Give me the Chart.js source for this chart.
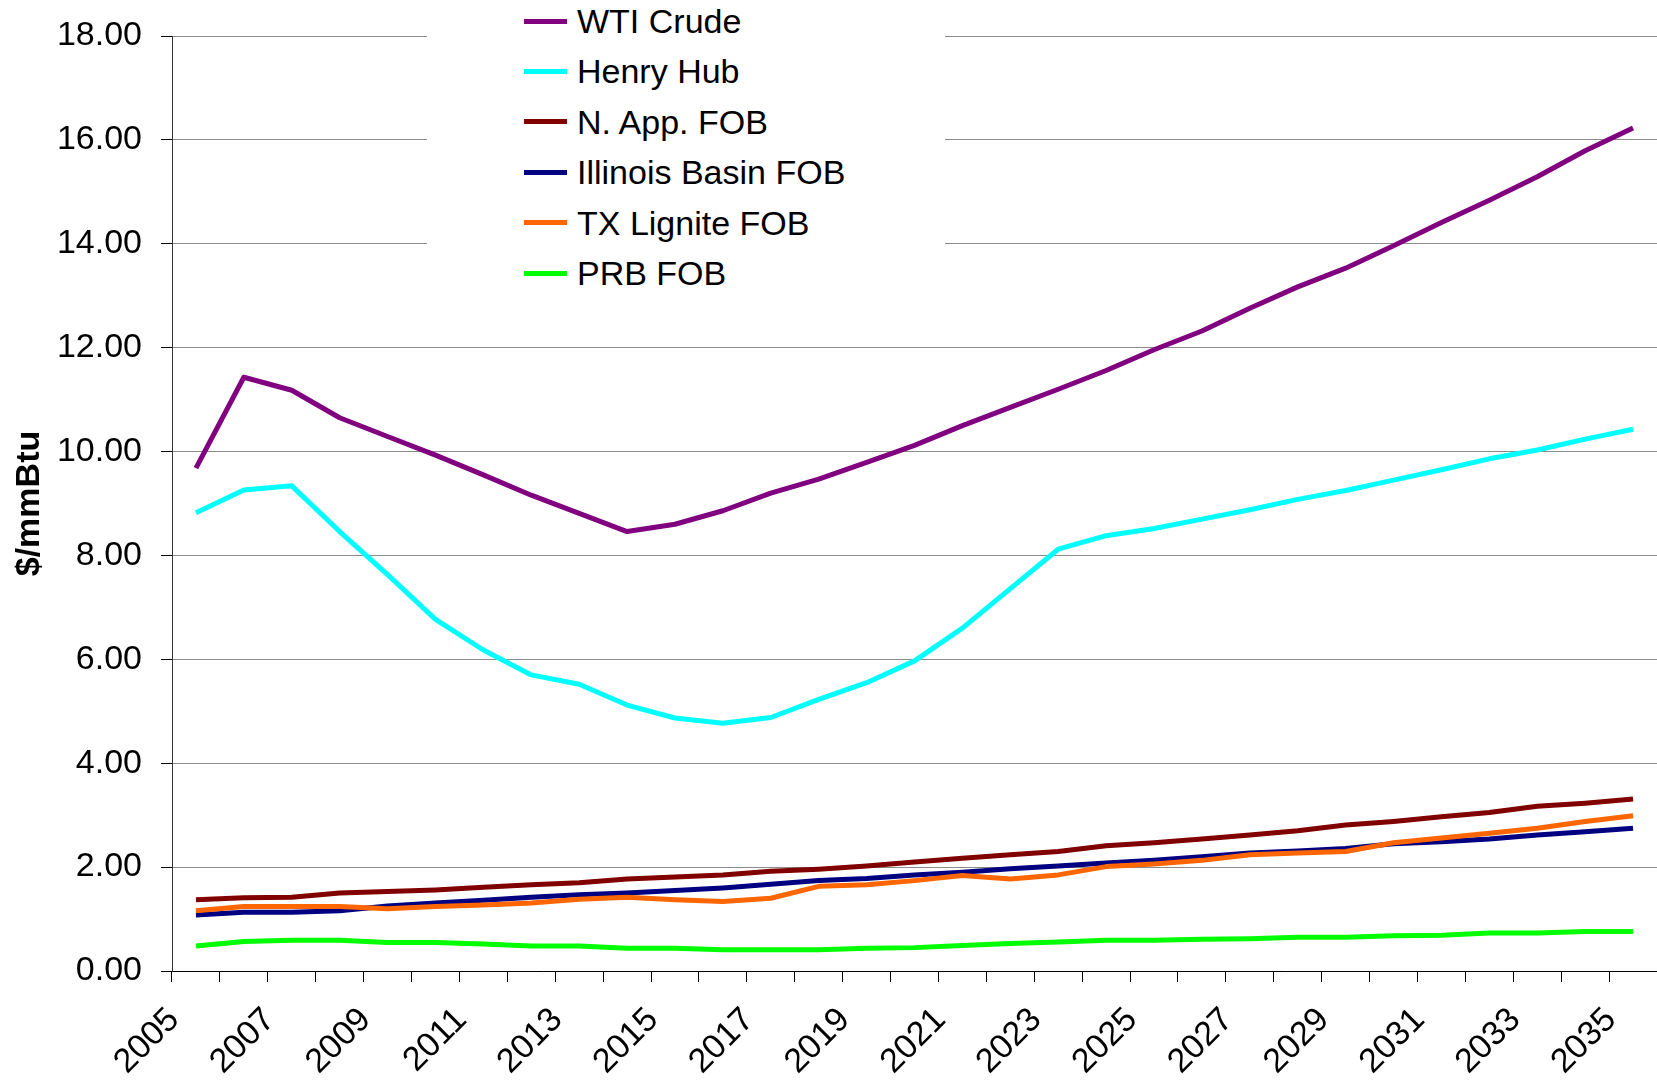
<!DOCTYPE html>
<html>
<head>
<meta charset="utf-8">
<script src="https://cdn.jsdelivr.net/npm/chart.js@4/dist/chart.umd.min.js"></script>
<style>
  html, body { margin: 0; padding: 0; background: #fff; overflow: hidden; }
  #wrap { position: relative; width: 1657px; height: 1081px; }
  #legend { position: absolute; left: 427px; top: 0px; width: 518px; height: 300px; background: #fff;
            font-family: "Liberation Sans", Arial, sans-serif; font-size: 34px; color: #000; }
  .item { position: absolute; left: 0; height: 40px; }
  .swatch { position: absolute; left: 97px; width: 43px; height: 5px; }
  .label { position: absolute; left: 150px; white-space: nowrap; line-height: 40px; top: -20px; }
</style>
</head>
<body>
<div id="wrap">
  <canvas id="c" width="1657" height="1081"></canvas>
  <div id="legend"></div>
</div>
<script>
const years = ["2005","2006","2007","2008","2009","2010","2011","2012","2013","2014","2015",
  "2016","2017","2018","2019","2020","2021","2022","2023","2024","2025",
  "2026","2027","2028","2029","2030","2031","2032","2033","2034","2035"];
const seriesNames = ["WTI Crude","Henry Hub","N. App. FOB","Illinois Basin FOB","TX Lignite FOB","PRB FOB"];
const seriesColors = ["#800080","#00FFFF","#800000","#000080","#FF6600","#00FF00"];
const wti = [9.68,11.43,11.18,10.65,10.29,9.93,9.55,9.16,8.81,8.46,8.60,
  8.86,9.20,9.47,9.79,10.12,10.50,10.85,11.20,11.56,11.96,
  12.32,12.76,13.17,13.53,13.96,14.41,14.84,15.29,15.79,16.23];
const henryHub = [8.82,9.26,9.34,8.46,7.63,6.77,6.18,5.70,5.52,5.12,4.87,
  4.77,4.88,5.23,5.55,5.97,6.60,7.36,8.12,8.38,8.52,
  8.70,8.88,9.08,9.25,9.45,9.65,9.86,10.03,10.24,10.43];
const nApp = [1.37,1.41,1.42,1.50,1.53,1.56,1.61,1.66,1.70,1.77,1.81,
  1.85,1.92,1.96,2.02,2.10,2.17,2.24,2.30,2.41,2.47,
  2.54,2.62,2.70,2.81,2.88,2.97,3.05,3.17,3.23,3.31];
const illinois = [1.08,1.13,1.13,1.16,1.25,1.31,1.36,1.42,1.47,1.50,1.55,
  1.60,1.67,1.74,1.78,1.85,1.90,1.97,2.02,2.08,2.13,
  2.20,2.27,2.31,2.36,2.45,2.49,2.54,2.62,2.68,2.75];
const txLignite = [1.16,1.24,1.24,1.24,1.20,1.24,1.27,1.31,1.38,1.42,1.37,
  1.34,1.40,1.63,1.66,1.74,1.84,1.77,1.85,2.01,2.06,
  2.13,2.24,2.27,2.30,2.47,2.56,2.65,2.75,2.88,2.99];
const prb = [0.48,0.57,0.59,0.59,0.55,0.55,0.52,0.48,0.48,0.44,0.44,
  0.41,0.41,0.41,0.44,0.45,0.49,0.53,0.56,0.59,0.59,
  0.61,0.62,0.65,0.65,0.68,0.69,0.73,0.73,0.76,0.76];
const seriesValues = [wti, henryHub, nApp, illinois, txLignite, prb];
const yTicks = [0,2,4,6,8,10,12,14,16,18];

const FONT = '"Liberation Sans", Arial, sans-serif';

const datasets = seriesNames.map((n, i) => ({
  label: n,
  data: seriesValues[i],
  borderColor: seriesColors[i],
  backgroundColor: seriesColors[i],
  borderWidth: 5,
  pointRadius: 0,
  tension: 0,
  fill: false,
  borderJoinStyle: 'round',
  borderCapStyle: 'butt',
  order: seriesNames.length - i
}));

// HTML legend
const leg = document.getElementById('legend');
seriesNames.forEach((n, i) => {
  const it = document.createElement('div');
  it.className = 'item';
  it.style.top = (21 + i * 50.4) + 'px';
  const sw = document.createElement('div');
  sw.className = 'swatch';
  sw.style.background = seriesColors[i];
  sw.style.top = '-2.5px';
  const lb = document.createElement('div');
  lb.className = 'label';
  lb.textContent = n;
  it.appendChild(sw); it.appendChild(lb);
  leg.appendChild(it);
});

new Chart(document.getElementById('c'), {
  type: 'line',
  data: { labels: years, datasets },
  options: {
    responsive: false,
    animation: false,
    layout: { padding: { top: 36, left: 0, right: 0, bottom: 0 } },
    plugins: { legend: { display: false }, tooltip: { enabled: false } },
    scales: {
      x: {
        type: 'category',
        offset: true,
        grid: { display: true, drawOnChartArea: false, drawTicks: true, tickLength: 11,
                tickColor: '#000', offset: true, lineWidth: 1 },
        border: { display: true, color: '#000', width: 1 },
        ticks: {
          autoSkip: false, maxRotation: 45, minRotation: 45, padding: 18, labelOffset: -22,
          color: '#000', font: { family: FONT, size: 34 },
          callback: function(v, i) { return i % 2 === 0 ? years[i] : ''; }
        },
        afterFit: function(s) { s.height = 110; s.paddingLeft = 0; s.paddingRight = 0; }
      },
      y: {
        min: 0, max: 18,
        afterBuildTicks: function(s) { s.ticks = yTicks.map(v => ({ value: v })); },
        grid: { color: '#8c8c8c', lineWidth: 1, drawTicks: true, tickLength: 11, tickColor: '#000' },
        border: { display: true, color: '#333', width: 1 },
        ticks: { color: '#000', padding: 19, font: { family: FONT, size: 34 },
                 callback: v => Number(v).toFixed(2) },
        title: { display: true, text: '$/mmBtu', color: '#000', padding: { top: 9, bottom: 4 },
                 font: { family: FONT, size: 34, weight: 'bold' } },
        afterFit: function(s) { s.width = 172; s.paddingTop = 0; s.paddingBottom = 0; }
      }
    }
  }
});
</script>
</body>
</html>
